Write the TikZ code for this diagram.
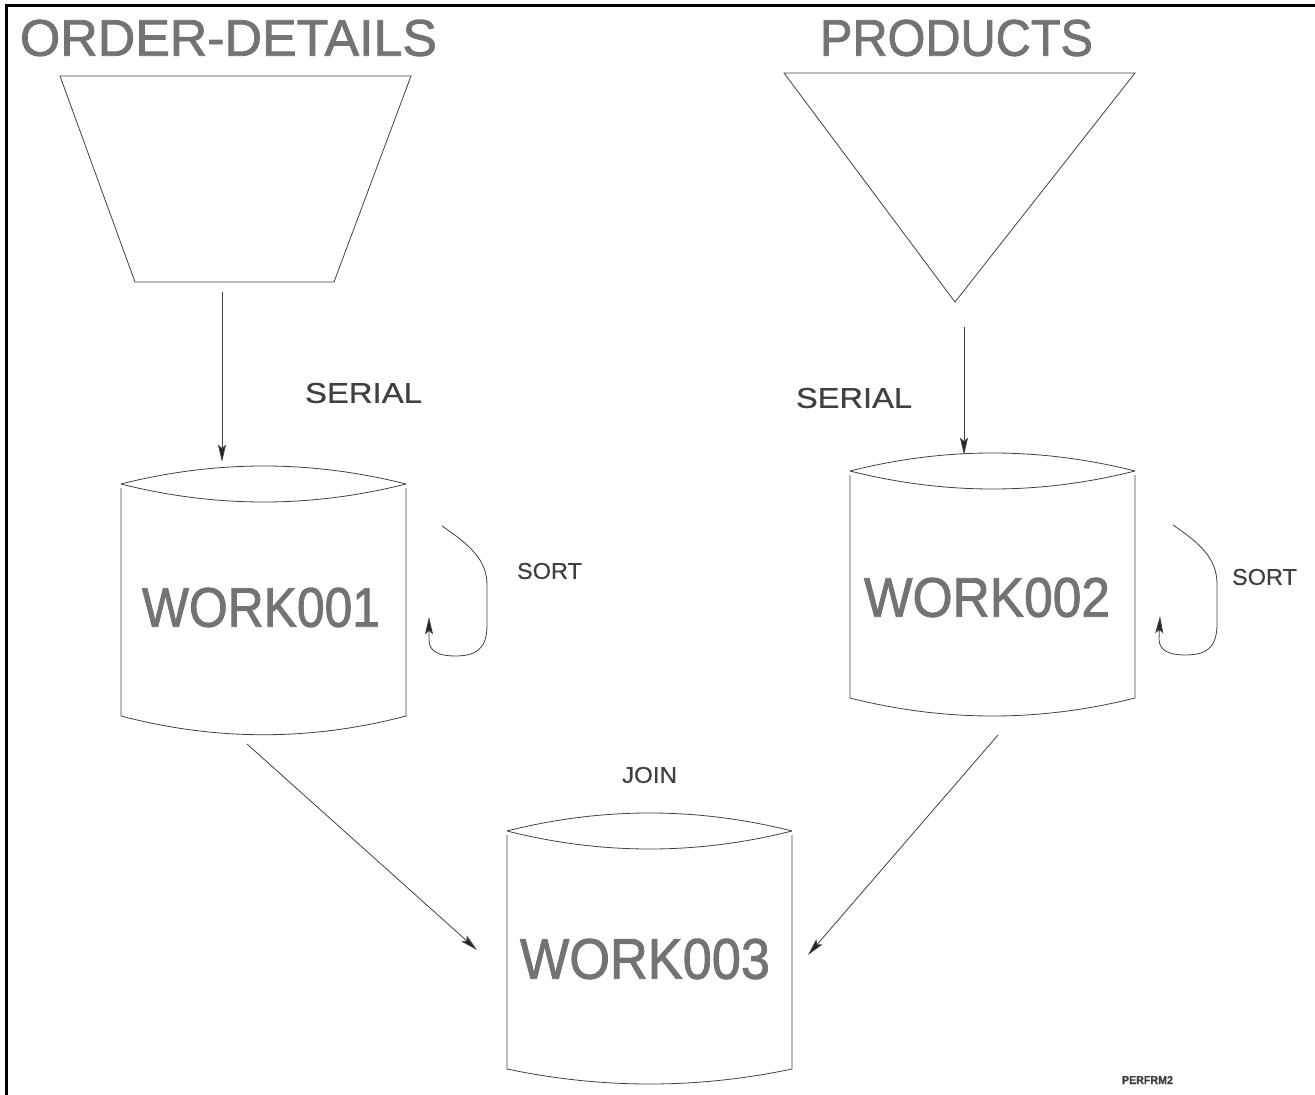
\documentclass[tikz,border=0pt]{standalone}
\usepackage{fontspec}
\setmainfont{Liberation Sans}
\newfontfamily\heavyfont[FakeBold=1.6]{Liberation Sans}
\newfontfamily\lblfont[FakeBold=0.6]{Liberation Sans}
\usetikzlibrary{arrows.meta}
\newlength\pxu \setlength\pxu{0.75pt}
\newcommand\fitbox[3]{\resizebox{#1\pxu}{#2\pxu}{#3}}
\begin{document}
\begin{tikzpicture}[x=0.75pt,y=-0.75pt,
  outline/.style={draw=black!75,line width=0.6pt},
  flow/.style={draw=black!75,line width=0.6pt,-{Stealth[length=13pt,width=6pt,inset=2.5pt,fill=black!85]}},
  bigtext/.style={inner sep=0pt,text=black!55,font=\heavyfont},
  lbl/.style={inner sep=0pt,text=black!75,font=\lblfont}]
\useasboundingbox (0,0) rectangle (1315,1095);
% frame (top and left only)
\draw[line width=2.25pt] (5,5.5) -- (1315,5.5);
\draw[line width=2.25pt] (6.5,4.5) -- (6.5,1095);

% titles
\node[bigtext] (tod) at (228.5,38) {\fitbox{417}{36}{ORDER-DETAILS}};
\node[bigtext] (tpr) at (956.5,38) {\fitbox{273}{36}{PRODUCTS}};

% source shapes
\draw[outline] (60,76) -- (411,76) -- (334,282) -- (135,282) -- cycle;
\draw[outline] (784,73) -- (1135,73) -- (955,302) -- cycle;
\coordinate (odout) at (222,292);
\coordinate (prout) at (964,327);

% cylinder WORK001
\draw[outline] (121,484) .. controls (216,460) and (311,460) .. (406,484);
\draw[outline] (121,484) .. controls (216,508) and (311,508) .. (406,484);
\draw[outline] (121,488) -- (121,716) .. controls (216,741) and (311,741) .. (406,716) -- (406,488);
\coordinate (w1in) at (222,462);
\coordinate (w1out) at (247,744);
\node[bigtext] (w1) at (261,607.5) {\fitbox{238}{39}{WORK001}};

% cylinder WORK002
\draw[outline] (850,471) .. controls (945,447) and (1040,447) .. (1135,471);
\draw[outline] (850,471) .. controls (945,495) and (1040,495) .. (1135,471);
\draw[outline] (850,475) -- (850,698) .. controls (945,722) and (1040,722) .. (1135,698) -- (1135,475);
\coordinate (w2in) at (964,455);
\coordinate (w2out) at (998,735);
\node[bigtext] (w2) at (987,597.5) {\fitbox{246}{39}{WORK002}};

% cylinder WORK003
\draw[outline] (507,831) .. controls (602,807) and (697,807) .. (792,831);
\draw[outline] (507,831) .. controls (602,855) and (697,855) .. (792,831);
\draw[outline] (507,835) -- (507,1069) .. controls (602,1089) and (697,1089) .. (792,1069) -- (792,835);
\coordinate (w3inL) at (477,950);
\coordinate (w3inR) at (808,955);
\node[bigtext] (w3) at (645,959) {\fitbox{250}{40}{WORK003}};

% flows
\draw[flow] (odout) -- (w1in);
\draw[flow] (prout) -- (w2in);
\draw[flow] (w1out) -- (w3inL);
\draw[flow] (w2out) -- (w3inR);

% sort loops
\coordinate (s1a) at (442,526);
\coordinate (s1b) at (429,617);
\draw[flow] (s1a) .. controls (470,545) and (487,560) .. (487,585) -- (487,625)
  .. controls (487,650) and (475,656) .. (455,656)
  .. controls (440,656) and (429,652) .. (429,640) -- (s1b);
\coordinate (s2a) at (1173,525);
\coordinate (s2b) at (1160,616);
\draw[flow] (s2a) .. controls (1201,544) and (1217,559) .. (1217,584) -- (1217,624)
  .. controls (1217,649) and (1205,655) .. (1185,655)
  .. controls (1170,655) and (1159,651) .. (1159,639) -- (s2b);

% labels
\node[lbl] (ser1) at (363.5,393) {\fitbox{117}{20}{SERIAL}};
\node[lbl] (ser2) at (854,398) {\fitbox{116}{20}{SERIAL}};
\node[lbl] (sort1) at (549.5,571) {\fitbox{65}{16}{SORT}};
\node[lbl] (sort2) at (1264.5,577) {\fitbox{65}{16}{SORT}};
\node[lbl] (join) at (649.5,775) {\fitbox{55}{16}{JOIN}};
\node[lbl] (perf) at (1147.5,1080) {\fitbox{51}{8}{\bfseries PERFRM2}};
\end{tikzpicture}
\end{document}
